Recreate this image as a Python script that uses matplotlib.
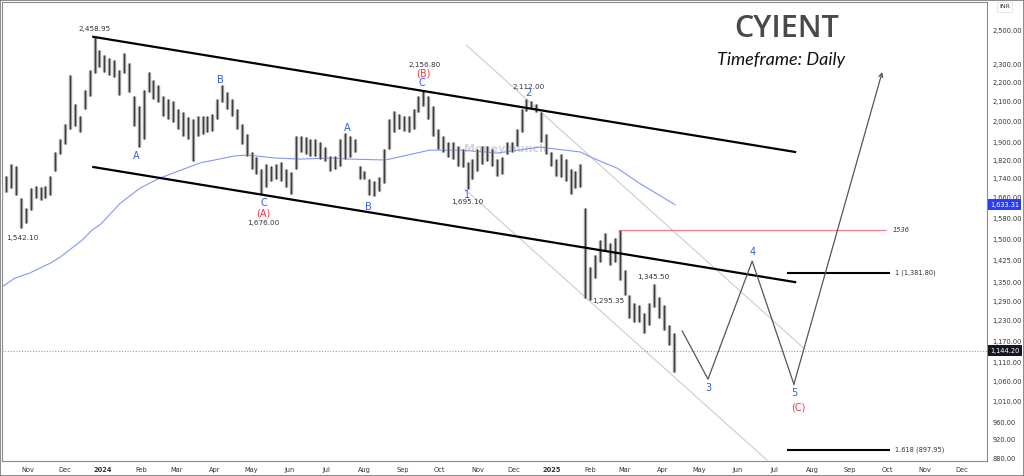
import numpy as np
import pandas as pd
import matplotlib
matplotlib.use("Agg")
import matplotlib.pyplot as plt
import matplotlib.dates as mdates
from matplotlib.patches import Rectangle
from matplotlib.ticker import FixedLocator, NullLocator, FuncFormatter

bar_start = "2023-10-10"
bar_highs = [1711, 1753, 1805, 1796, 1658, 1619, 1699, 1711, 1707, 1711,
             1753, 1858, 1917, 1987, 2242, 2086, 2026, 2162, 2270, 2458.95,
             2382, 2353, 2336, 2325, 2270, 2365, 2308, 2126, 2075, 2162,
             2259, 2215, 2189, 2126, 2111, 2101, 2060, 2045, 2021, 2011,
             2026, 2026, 2026, 2035, 2111, 2189, 2152, 2111, 2060, 1987,
             1939, 1858, 1835, 1783, 1805, 1796, 1805, 1813, 1783, 1770,
             1930, 1930, 1925, 1917, 1917, 1903, 1880, 1840, 1840, 1917,
             1944, 1930, 1917, 1796, 1774, 1740, 1728, 1749, 1871, 2011,
             2050, 2035, 2026, 2026, 2060, 2126, 2156.80, 2126, 2075, 1963,
             1930, 1903, 1903, 1885, 1871, 1813, 1826, 1871, 1885, 1885,
             1871, 1826, 1835, 1903, 1903, 1963, 2060, 2112.00, 2101, 2086,
             2045, 1939, 1858, 1826, 1849, 1826, 1783, 1774, 1805, 1620,
             1403, 1444, 1498, 1524, 1487, 1505, 1536, 1392, 1310, 1284,
             1278, 1254, 1284, 1345.50, 1304, 1278, 1218, 1194]
bar_lows = [1646, 1686, 1699, 1670, 1542.10, 1561, 1611, 1658, 1650, 1658,
            1670, 1774, 1849, 1894, 1963, 1977, 1949, 2060, 2126, 2253,
            2286, 2259, 2242, 2231, 2136, 2253, 2152, 1977, 1880, 1917,
            2147, 2111, 2096, 2026, 2011, 1996, 1963, 1930, 1917, 1818,
            1930, 1939, 1949, 1953, 2011, 2096, 2060, 2026, 1963, 1894,
            1840, 1783, 1762, 1676.00, 1707, 1732, 1740, 1728, 1707, 1678,
            1783, 1858, 1849, 1840, 1840, 1826, 1818, 1774, 1783, 1796,
            1826, 1835, 1858, 1740, 1740, 1670, 1666, 1690, 1720, 1871,
            1949, 1963, 1953, 1949, 1963, 2045, 2075, 2011, 1930, 1871,
            1858, 1835, 1826, 1796, 1792, 1695.10, 1740, 1774, 1805, 1818,
            1796, 1753, 1762, 1849, 1858, 1885, 1949, 2050, 2060, 2045,
            1903, 1849, 1796, 1753, 1749, 1732, 1678, 1699, 1707, 1300,
            1295.35, 1365, 1420, 1462, 1409, 1420, 1359, 1310, 1239, 1226,
            1226, 1194, 1218, 1272, 1239, 1203, 1160, 1086]

# moving average (blue line)
ma_dates = ["2023-10-09", "2023-10-21", "2023-11-02", "2023-11-19", "2023-11-27",
            "2023-12-15", "2023-12-23", "2023-12-30", "2024-01-15", "2024-01-31",
            "2024-02-16", "2024-03-20", "2024-04-17", "2024-04-28", "2024-05-20",
            "2024-06-09", "2024-07-06", "2024-07-20", "2024-08-18", "2024-09-23",
            "2024-10-20", "2024-11-17", "2024-12-22", "2025-01-24", "2025-02-03",
            "2025-02-23", "2025-03-13", "2025-04-11"]
ma_values = [1332, 1365, 1382, 1416, 1437, 1498, 1535, 1557, 1639, 1700,
             1742, 1808, 1839, 1843, 1830, 1825, 1830, 1825, 1821, 1865,
             1865, 1852, 1879, 1857, 1830, 1785, 1721, 1633.31]

# falling channel (black)
chan_dates = ["2023-12-24", "2025-07-18"]
chan_upper = [2458.95, 1857]
chan_lower = [1790, 1352]

# thin grey channel
grey_top_dates = ["2024-10-23", "2025-07-25"]
grey_top = [2410, 1151]
grey_bot_dates = ["2024-10-22", "2025-06-25"]
grey_bot = [1695.10, 876]

# resistance and fibonacci levels
resist_dates = ["2025-02-24", "2025-09-30"]
resist_level = 1536
fib_dates = ["2025-07-11", "2025-10-03"]
fib_levels = [1381.80, 897.95]
fib_labels = ["1 (1,381.80)", "1.618 (897.95)"]

# projected path
proj_dates = ["2025-04-17", "2025-05-08", "2025-06-13", "2025-07-17", "2025-09-27"]
proj_prices = [1200, 1067, 1423, 1054, 2257]

last_price = 1144.20
ma_last = 1633.31

price_ticks = [880, 920, 960, 1010, 1060, 1110, 1170, 1230, 1290, 1350, 1425,
               1500, 1580, 1660, 1740, 1820, 1900, 2000, 2100, 2200, 2300, 2500]

BLUE = "#2f5cf2"
RED = "#f23645"
TXT = "#333333"


def dn(s):
    return mdates.date2num(np.array(s, dtype="datetime64[s]"))


bar_x = mdates.date2num(pd.date_range(bar_start, periods=len(bar_highs), freq="4D").to_pydatetime())

fig = plt.figure(figsize=(10.24, 4.76), dpi=100)
ax = fig.add_axes([0.002, 0.0315, 0.962, 0.9643])

# wide grey body plus a dark core, to get the dense look of daily bars
ax.vlines(bar_x, bar_lows, bar_highs, colors="#9a9a9a", linewidth=2.4, zorder=3)
ax.vlines(bar_x, bar_lows, bar_highs, colors="#3c3c3c", linewidth=0.7, zorder=3)
ax.plot(dn(ma_dates), ma_values, color="#8497f7", lw=0.8, zorder=2)

ax.plot(dn(chan_dates), chan_upper, color="black", lw=1.6, zorder=4)
ax.plot(dn(chan_dates), chan_lower, color="black", lw=1.6, zorder=4)
ax.plot(dn(grey_top_dates), grey_top, color="#cccccc", lw=0.8, zorder=1)
ax.plot(dn(grey_bot_dates), grey_bot, color="#cccccc", lw=0.8, zorder=1)

rx = dn(resist_dates)
ax.hlines(resist_level, rx[0], rx[1], color="#f47c86", lw=0.9, zorder=2)
ax.annotate(str(resist_level), (rx[1], resist_level), xytext=(7, 0), textcoords="offset pixels",
            ha="left", va="center", fontsize=4.8, style="italic", color=TXT)

fx = dn(fib_dates)
for lvl, lab in zip(fib_levels, fib_labels):
    ax.hlines(lvl, fx[0], fx[1], color="black", lw=1.5, zorder=2)
    ax.annotate(lab, (fx[1], lvl), xytext=(5, 0), textcoords="offset pixels",
                ha="left", va="center", fontsize=4.8, color=TXT)

px = dn(proj_dates)
ax.plot(px[:-1], proj_prices[:-1], color="#555555", lw=0.9, zorder=4)
ax.annotate("", xy=(px[-1], proj_prices[-1]), xytext=(px[-2], proj_prices[-2]),
            arrowprops=dict(arrowstyle="->", color="#555555", lw=0.9, shrinkA=0, shrinkB=0,
                            mutation_scale=7), zorder=4)

ax.axhline(last_price, color="#9a9a9a", lw=0.8, ls=(0, (1, 1.5)), zorder=1)

# price notes and wave counts anchored on bars: (index, side, text, dx, dy)
price_notes = [(19, "high", "2,458.95", 0, 8), (4, "low", "1,542.10", 1, -10),
               (53, "low", "1,676.00", 2, -29), (86, "high", "2,156.80", 1, 26),
               (95, "low", "1,695.10", 0, -13), (107, "high", "2,112.00", 2, 12),
               (133, "high", "1,345.50", -1, 7), (120, "low", "1,295.35", 18, -1)]
wave_notes = [(28, "low", "A", BLUE, -2, -9), (45, "high", "B", BLUE, -2, 5),
              (53, "low", "C", BLUE, 2, -9), (53, "low", "(A)", RED, 2, -19),
              (70, "high", "A", BLUE, 2, 5), (76, "low", "B", BLUE, -6, -11),
              (86, "high", "(B)", RED, 0, 17), (86, "high", "C", BLUE, -1, 8),
              (95, "low", "1", BLUE, -1, -6), (107, "high", "2", BLUE, 2, 6)]

for i, side, t, dx, dy in price_notes:
    y = bar_highs[i] if side == "high" else bar_lows[i]
    ax.annotate(t, (bar_x[i], y), xytext=(dx, dy), textcoords="offset pixels",
                ha="center", va="center", fontsize=5.2, color=TXT, zorder=6)
for i, side, t, c, dx, dy in wave_notes:
    y = bar_highs[i] if side == "high" else bar_lows[i]
    ax.annotate(t, (bar_x[i], y), xytext=(dx, dy), textcoords="offset pixels",
                ha="center", va="center", fontsize=7, color=c, zorder=6)

proj_notes = [(1, "3", BLUE, 0, -9), (2, "4", BLUE, 0, 9), (3, "5", BLUE, 0, -9),
              (3, "(C)", RED, 4, -23)]
for k, t, c, dx, dy in proj_notes:
    ax.annotate(t, (px[k], proj_prices[k]), xytext=(dx, dy), textcoords="offset pixels",
                ha="center", va="center", fontsize=7, color=c, zorder=6)

ax.text(0.511, 0.68, "Moneymunch", transform=ax.transAxes, ha="center", va="center",
        fontsize=8, fontweight="bold", color="#d6d6d6", zorder=0)

# axes
ax.set_yscale("log")
ax.set_ylim(874, 2677)
ax.set_xlim(dn("2023-10-10T15:00"), dn("2025-12-21T12:00"))
ax.yaxis.set_major_locator(FixedLocator(price_ticks))
ax.yaxis.set_minor_locator(NullLocator())
ax.yaxis.set_major_formatter(FuncFormatter(lambda v, p: f"{v:,.2f}"))
ax.yaxis.tick_right()
ax.tick_params(axis="y", length=0, labelsize=4.8, pad=4, labelcolor=TXT)

month_ticks = pd.date_range("2023-11-01", "2025-12-01", freq="MS")
ax.set_xticks(mdates.date2num(month_ticks.to_pydatetime()))
ax.set_xticklabels([str(m.year) if m.month == 1 else m.strftime("%b") for m in month_ticks])
for lab, m in zip(ax.get_xticklabels(), month_ticks):
    if m.month == 1:
        lab.set_fontweight("bold")
ax.xaxis.set_minor_locator(NullLocator())
ax.tick_params(axis="x", length=0, labelsize=4.8, pad=4, labelcolor=TXT)
for s in ax.spines.values():
    s.set_color("#8a8a8a")
    s.set_linewidth(0.8)

# price tags on the scale
ax.annotate(f"{ma_last:,.2f}", xy=(1.0, ma_last), xycoords=("axes fraction", "data"),
            xytext=(3, 0), textcoords="offset pixels", ha="left", va="center",
            fontsize=4.8, color="white", annotation_clip=False, zorder=10,
            bbox=dict(boxstyle="square,pad=0.35", fc="#2b3df2", ec="none"))
ax.annotate(f"{last_price:,.2f}", xy=(1.0, last_price), xycoords=("axes fraction", "data"),
            xytext=(3, 0), textcoords="offset pixels", ha="left", va="center",
            fontsize=4.8, color="white", annotation_clip=False, zorder=10,
            bbox=dict(boxstyle="square,pad=0.35", fc="#131722", ec="none"))

fig.text(0.7686, 0.939, "CYIENT", ha="center", va="center", fontsize=22,
         fontweight="semibold", color="#4a4849", family="Open Sans")
fig.text(0.7627, 0.874, "Timeframe: Daily", ha="center", va="center", fontsize=13,
         style="italic", color="#111111", family="Lato")
fig.text(0.981, 0.986, "INR", ha="center", va="center", fontsize=4.5, color=TXT,
         bbox=dict(boxstyle="square,pad=0.4", fc="white", ec="#dddddd", lw=0.5))
fig.add_artist(Rectangle((0, 0), 1, 1, transform=fig.transFigure, fill=False,
                         ec="#777777", lw=1.2))

fig.savefig("out.png", dpi=100)
